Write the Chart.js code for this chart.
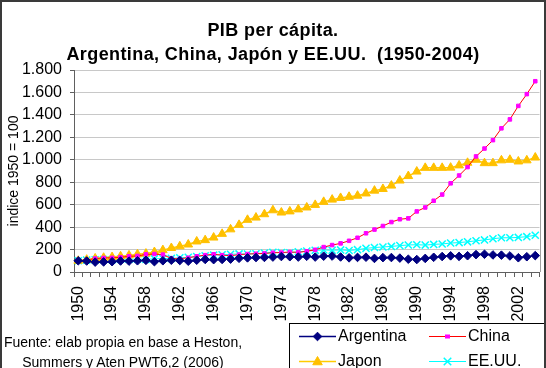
<!DOCTYPE html>
<html><head><meta charset="utf-8">
<script src="https://cdn.jsdelivr.net/npm/chart.js@4/dist/chart.umd.min.js"></script>
<style>
html,body{margin:0;padding:0;background:#fff;}
#wrap{position:relative;width:546px;height:368px;overflow:hidden;}
canvas{position:absolute;left:0;top:0;}
#title{position:absolute;left:0;top:19px;width:546px;text-align:center;font:bold 18px "Liberation Sans",Arial,sans-serif;line-height:23.5px;letter-spacing:0.4px;color:#000;}
#src{position:absolute;left:0;top:332px;width:246px;text-align:center;font:14px "Liberation Sans",Arial,sans-serif;line-height:20px;color:#000;}
</style></head><body>
<div id="wrap"><canvas id="c" width="546" height="368"></canvas>
<div id="title">PIB per cápita.<br>Argentina, China, Japón y EE.UU.&nbsp; (1950-2004)</div>
<div id="src">Fuente: elab propia en base a Heston,<br>Summers y Aten PWT6,2 (2006)</div>
</div>
<script>
const years = ["1950","1951","1952","1953","1954","1955","1956","1957","1958","1959",
"1960","1961","1962","1963","1964","1965","1966","1967","1968","1969",
"1970","1971","1972","1973","1974","1975","1976","1977","1978","1979",
"1980","1981","1982","1983","1984","1985","1986","1987","1988","1989",
"1990","1991","1992","1993","1994","1995","1996","1997","1998","1999",
"2000","2001","2002","2003","2004"];
const argentina = [100,98,88,90,92,98,97,100,104,92,
100,105,102,96,105,112,110,112,115,122,
126,129,130,133,138,136,133,140,133,141,
142,134,126,130,132,121,128,129,124,114,
111,121,131,138,144,139,145,155,158,152,
150,143,127,136,146];
const china = [100,108,120,125,126,131,140,143,157,160,
155,120,118,127,140,150,158,150,145,155,
160,163,165,172,173,178,175,185,198,222,
240,255,278,305,345,378,410,445,470,478,
540,575,635,690,790,860,935,1030,1100,1175,
1280,1360,1480,1585,1700];
const japon = [100,110,121,127,133,140,148,158,164,178,
195,214,229,245,272,284,307,340,380,420,
465,485,515,550,530,540,558,575,598,625,
645,660,670,680,700,725,740,770,815,855,
895,928,928,928,930,950,973,1000,970,970,
995,1000,985,995,1020];
const eeuu = [100,106,108,111,109,114,114,115,112,118,
120,121,127,131,137,144,150,153,158,161,
160,163,169,176,174,172,180,186,193,196,
194,197,192,199,211,218,223,228,235,241,
243,240,246,250,258,262,269,278,286,296,
305,305,308,315,328];
const seriesNames = ["Argentina","China","Japon","EE.UU."];
const yTicks = [0,200,400,600,800,1000,1200,1400,1600,1800];

const FONT = '"Liberation Sans", Arial, sans-serif';

function drawMarker(ctx, style, x, y, r, fill, stroke, bw){
  ctx.save();
  ctx.fillStyle = fill; ctx.strokeStyle = stroke; ctx.lineWidth = bw||1;
  ctx.beginPath();
  if(style==='rectRot'){
    ctx.moveTo(x,y-r);ctx.lineTo(x+r,y);ctx.lineTo(x,y+r);ctx.lineTo(x-r,y);ctx.closePath();ctx.fill();ctx.stroke();
  } else if(style==='rect'){
    ctx.rect(x-r,y-r*0.8,2*r,1.6*r);ctx.fill();
  } else if(style==='triangle'){
    ctx.moveTo(x,y-r);ctx.lineTo(x+r*0.95,y+r*0.65);ctx.lineTo(x-r*0.95,y+r*0.65);ctx.closePath();ctx.fill();ctx.stroke();
  } else if(style==='crossRot'){
    ctx.moveTo(x-r*0.75,y-r*0.75);ctx.lineTo(x+r*0.75,y+r*0.75);
    ctx.moveTo(x+r*0.75,y-r*0.75);ctx.lineTo(x-r*0.75,y+r*0.75);ctx.stroke();
  }
  ctx.restore();
}

const decor = {
  id:'decor',
  beforeDraw(chart){
    const ctx = chart.ctx;
    ctx.save(); ctx.fillStyle='#fff'; ctx.fillRect(0,0,chart.width,chart.height); ctx.restore();
  },
  afterDraw(chart){
    const ctx = chart.ctx, a = chart.chartArea;
    ctx.save();
    ctx.strokeStyle='#a0a0a0'; ctx.lineWidth=1;
    ctx.beginPath(); ctx.moveTo(Math.round(a.right)+0.5,a.top); ctx.lineTo(Math.round(a.right)+0.5,a.bottom); ctx.stroke();
    const lx=289.5, ly=323.5;
    ctx.strokeStyle='#000'; ctx.lineWidth=1;
    ctx.strokeRect(lx,ly,270,60);
    const pos = [[299,336.5],[429,336.5],[299,361.5],[429,361.5]];
    chart.data.datasets.forEach((ds,i)=>{
      const [x,y]=pos[i];
      ctx.strokeStyle=ds.borderColor; ctx.lineWidth=ds.borderWidth;
      ctx.beginPath(); ctx.moveTo(x,y); ctx.lineTo(x+37,y); ctx.stroke();
      drawMarker(ctx, ds.pointStyle, x+18.5, y, ds.pointRadius, ds.pointBackgroundColor, ds.pointBorderColor, ds.pointBorderWidth);
      ctx.fillStyle='#000'; ctx.font='16px '+FONT; ctx.textBaseline='middle'; ctx.textAlign='left';
      ctx.fillText(ds.label, x+39, y+0.5);
    });
    ctx.strokeStyle='#3a3a3a'; ctx.lineWidth=2;
    ctx.beginPath(); ctx.moveTo(1,370); ctx.lineTo(1,1); ctx.lineTo(545,1); ctx.lineTo(545,370); ctx.stroke();
    ctx.restore();
  }
};

function mk(label, data, line, ptFill, ptBorder, style, r, bw, pbw){
  return {label, data, borderColor:line, borderWidth:bw, pointStyle:style, pointRadius:r,
    pointBackgroundColor:ptFill, pointBorderColor:ptBorder, pointBorderWidth:pbw, pointHoverRadius:r,
    tension:0, fill:false};
}

new Chart(document.getElementById('c'), {
  type:'line',
  data:{
    labels: years,
    datasets:[
      mk(seriesNames[0], argentina, '#000080', '#000080', '#000080', 'rectRot', 4.3, 1.5, 1),
      mk(seriesNames[1], china, '#FF0000', '#FF00FF', '#FF00FF', 'rect', 2.5, 1, 1),
      mk(seriesNames[2], japon, '#FFCC00', '#FFC000', '#FFC000', 'triangle', 5, 1.5, 1),
      mk(seriesNames[3], eeuu, '#00FFFF', '#00FFFF', '#00FFFF', 'crossRot', 5, 1, 1.5)
    ]
  },
  options:{
    responsive:false, animation:false,
    layout:{padding:{top:70,left:0,right:6,bottom:0}},
    plugins:{legend:{display:false}, title:{display:false}, tooltip:{enabled:false}},
    scales:{
      x:{
        type:'category', offset:true,
        grid:{offset:true, drawOnChartArea:false, drawTicks:true, tickLength:5, color:'#606060', tickColor:'#606060'},
        border:{color:'#606060', width:1},
        ticks:{autoSkip:false, minRotation:90, maxRotation:90, padding:9, color:'#000',
          font:{family:FONT, size:16},
          callback:function(v,i){ return (i%4===0) ? years[i] : ''; }},
        afterFit(s){ s.height = 96; s.paddingLeft = 0; s.paddingRight = 0; }
      },
      y:{
        min:0, max:1800,
        afterBuildTicks(s){ s.ticks = yTicks.map(v=>({value:v})); },
        grid:{color:'#c8c8c8', tickColor:'#606060', tickLength:4, lineWidth:1},
        border:{color:'#606060', width:1},
        ticks:{padding:8, color:'#000', font:{family:FONT, size:16},
          callback:function(v){ return v.toString().replace(/\B(?=(\d{3})+(?!\d))/g,'.'); }},
        title:{display:true, text:'indice 1950 = 100', color:'#000', font:{family:FONT, size:14}, padding:{top:6,bottom:0}},
        afterFit(s){ s.width = 74; }
      }
    }
  },
  plugins:[decor]
});
</script>
</body></html>
